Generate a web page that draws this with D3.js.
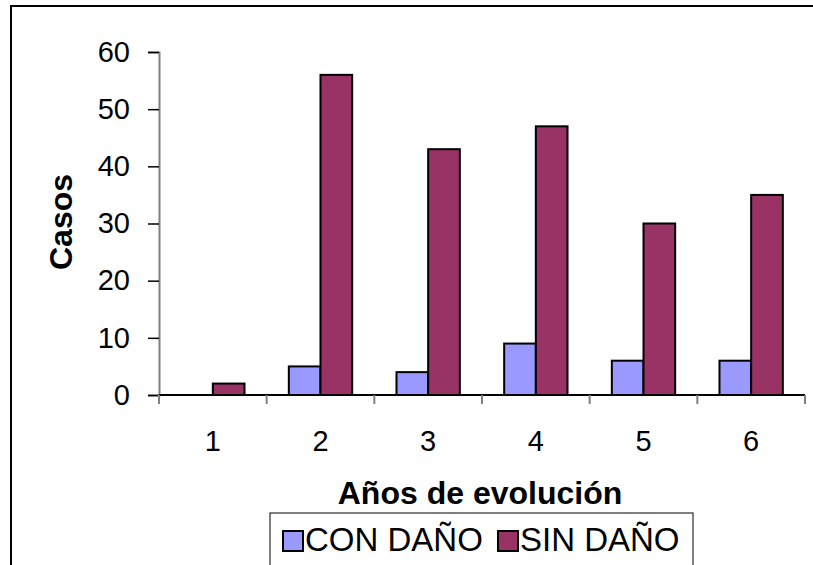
<!DOCTYPE html>
<html>
<head>
<meta charset="utf-8">
<script src="https://cdn.jsdelivr.net/npm/d3@7/dist/d3.min.js"></script>
<style>
  html, body { margin: 0; padding: 0; background: #fff; }
  svg { display: block; font-family: "Liberation Sans", Arial, sans-serif; }
</style>
</head>
<body>
<svg id="chart" width="813" height="565"></svg>
<script>
// Casos por años de evolución, con y sin daño
const years = ["1", "2", "3", "4", "5", "6"];
const seriesNames = ["CON DAÑO", "SIN DAÑO"];
const conDano = [0, 5, 4, 9, 6, 6];
const sinDano = [2, 56, 43, 47, 30, 35];
const yTicks = [0, 10, 20, 30, 40, 50, 60];
const seriesColors = ["#9999FF", "#993366"];

const values = { "CON DAÑO": conDano, "SIN DAÑO": sinDano };

const svg = d3.select("#chart");

// outer frame (right and bottom edges fall outside the canvas)
svg.append("rect")
  .attr("x", 11).attr("y", 6)
  .attr("width", 830).attr("height", 600)
  .attr("fill", "none").attr("stroke", "#000").attr("stroke-width", 2);

const plot = { left: 159, right: 805, top: 52, bottom: 395 };

const x0 = d3.scaleBand().domain(years).range([plot.left, plot.right]).padding(0);
const x1 = d3.scaleBand().domain(seriesNames).range([0, x0.bandwidth()])
  .paddingInner(0).paddingOuter(0.7);
const y = d3.scaleLinear().domain([0, 60]).range([plot.bottom, plot.top]);
const color = d3.scaleOrdinal().domain(seriesNames).range(seriesColors);

// y axis
const yAxis = svg.append("g")
  .attr("transform", `translate(${plot.left},0)`)
  .call(d3.axisLeft(y).tickValues(yTicks).tickSize(11).tickPadding(18).tickFormat(d3.format("d")));
yAxis.select(".domain").attr("stroke", "#808080").attr("stroke-width", 2);
yAxis.selectAll(".tick line").attr("stroke", "#000").attr("stroke-width", 1.5);
yAxis.selectAll(".tick text")
  .attr("font-size", 29).attr("fill", "#000")
  .attr("font-family", "'Liberation Sans', Arial, sans-serif");

// bars
const groups = svg.append("g").selectAll("g")
  .data(years)
  .join("g")
  .attr("transform", d => `translate(${x0(d)},0)`);

groups.selectAll("rect")
  .data((d, i) => seriesNames.map(s => ({ s, v: values[s][i] })).filter(e => e.v > 0))
  .join("rect")
  .attr("x", d => x1(d.s))
  .attr("width", x1.bandwidth())
  .attr("y", d => y(d.v))
  .attr("height", d => y(0) - y(d.v))
  .attr("fill", d => color(d.s))
  .attr("stroke", "#000")
  .attr("stroke-width", 2);

// x axis: baseline with ticks at category boundaries
const xAxisG = svg.append("g");
xAxisG.append("line")
  .attr("x1", plot.left).attr("x2", plot.right)
  .attr("y1", y(0)).attr("y2", y(0))
  .attr("stroke", "#000").attr("stroke-width", 2);
const boundaries = years.map(d => x0(d)).concat([x0(years[years.length - 1]) + x0.bandwidth()]);
xAxisG.selectAll("line.tk")
  .data(boundaries)
  .join("line")
  .attr("class", "tk")
  .attr("x1", d => d).attr("x2", d => d)
  .attr("y1", y(0)).attr("y2", y(0) + 9)
  .attr("stroke", "#808080").attr("stroke-width", 2);
xAxisG.selectAll("text")
  .data(years)
  .join("text")
  .attr("x", d => x0(d) + x0.bandwidth() / 2)
  .attr("y", 451)
  .attr("text-anchor", "middle")
  .attr("font-size", 29)
  .text(d => d);

// axis titles
svg.append("text")
  .attr("transform", "translate(72,222) rotate(-90)")
  .attr("text-anchor", "middle")
  .attr("font-size", 32).attr("font-weight", "bold")
  .text("Casos");

svg.append("text")
  .attr("x", 480).attr("y", 504)
  .attr("text-anchor", "middle")
  .attr("font-size", 32).attr("font-weight", "bold")
  .text("Años de evolución");

// legend
const legend = svg.append("g");
legend.append("rect")
  .attr("x", 270).attr("y", 513)
  .attr("width", 423).attr("height", 80)
  .attr("fill", "#fff").attr("stroke", "#000").attr("stroke-width", 1);
const legendX = [283, 498];
const items = legend.selectAll("g.item")
  .data(seriesNames)
  .join("g")
  .attr("class", "item")
  .attr("transform", (d, i) => `translate(${legendX[i]},531)`);
items.append("rect")
  .attr("width", 20).attr("height", 20)
  .attr("fill", d => color(d))
  .attr("stroke", "#000").attr("stroke-width", 2);
items.append("text")
  .attr("x", 22).attr("y", 20)
  .attr("font-size", 33)
  .text(d => d);
</script>
</body>
</html>
